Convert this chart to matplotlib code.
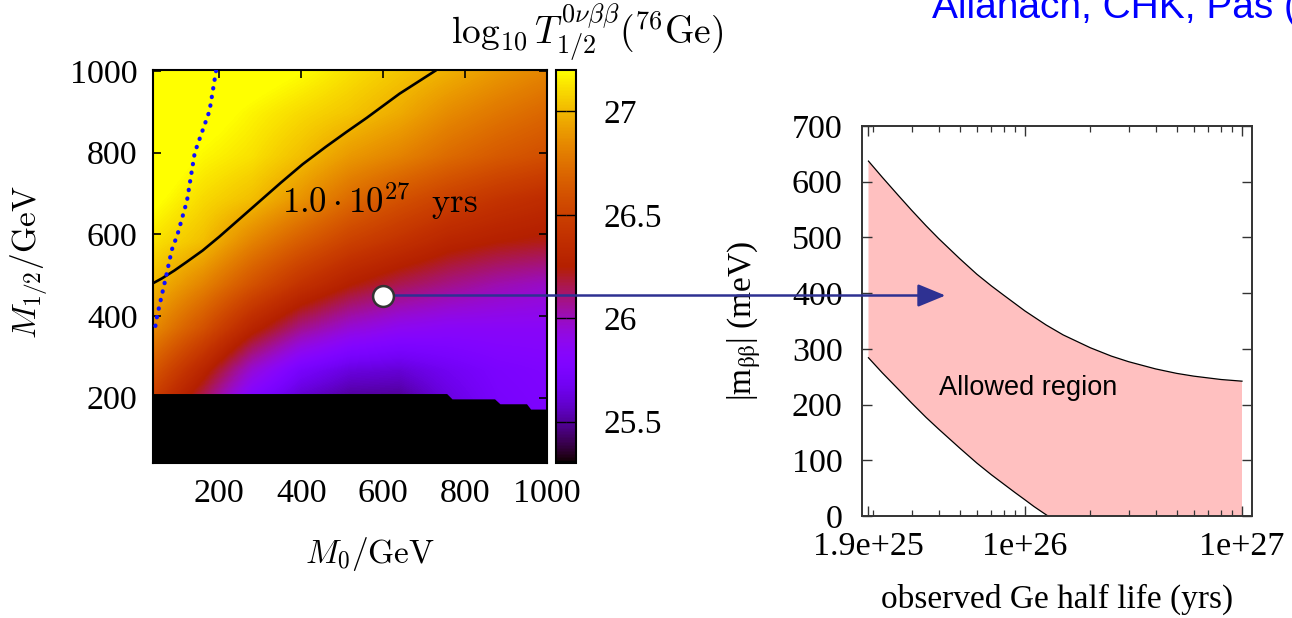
import numpy as np
import matplotlib
matplotlib.use("Agg")
import matplotlib.pyplot as plt
from matplotlib.patches import ConnectionPatch
from matplotlib.lines import Line2D
from matplotlib.ticker import FixedLocator, NullFormatter

plt.rcParams['font.family'] = ['Liberation Serif', 'DejaVu Serif']
plt.rcParams['mathtext.fontset'] = 'cm'

# ---------------- data: left panel (log10 T_1/2 over M0, M1/2 plane) -------------
m0_grid = [40, 160, 280, 400, 520, 640, 760, 880, 1000]
m12_grid = [160, 265, 370, 475, 580, 685, 790, 895, 1000]
log_t_half = [
    [26.40, 26.05, 25.68, 25.50, 25.42, 25.42, 25.60, 25.72, 25.76],
    [26.62, 26.30, 25.95, 25.72, 25.62, 25.60, 25.68, 25.75, 25.78],
    [26.85, 26.60, 26.30, 26.08, 25.95, 25.88, 25.85, 25.85, 25.85],
    [27.00, 26.82, 26.60, 26.40, 26.25, 26.15, 26.08, 26.02, 25.98],
    [27.12, 27.02, 26.82, 26.65, 26.50, 26.40, 26.30, 26.25, 26.22],
    [27.22, 27.10, 27.02, 26.88, 26.72, 26.60, 26.50, 26.42, 26.36],
    [27.30, 27.18, 27.12, 27.02, 26.90, 26.82, 26.72, 26.64, 26.58],
    [27.33, 27.25, 27.17, 27.10, 27.04, 26.96, 26.85, 26.77, 26.70],
    [27.35, 27.30, 27.26, 27.20, 27.12, 27.05, 26.98, 26.90, 26.83],
]
# 1.0e27 yrs contour
contour_m0 = [38, 60, 90, 120, 159, 200, 250, 300, 350, 403, 460, 510, 560, 640, 727]
contour_m12 = [480, 492, 511, 532, 560, 594, 638, 682, 726, 771, 814, 850, 885, 944, 1000]
# blue dotted boundary
dot_m0 = [192, 176, 140, 121, 98, 84, 68, 48, 43]
dot_m12 = [1000, 902, 800, 682, 600, 562, 488, 400, 370]
# excluded (black) region upper boundary
excl_m0 = [38, 755, 768, 872, 885, 950, 960, 1000]
excl_m12 = [210, 210, 197, 197, 185, 185, 172, 172]
# benchmark point
bench_m0, bench_m12 = 600, 450

cbar_ticks = [25.5, 26.0, 26.5, 27.0]
cbar_ticklabels = ['25.5', '26', '26.5', '27']
left_ticks = [200, 400, 600, 800, 1000]

# ---------------- data: right panel ----------------
T_upper = [1.9e25, 2.2e25, 2.6e25, 3e25, 3.5e25, 4e25, 5e25, 6e25, 7e25, 8e25, 1e26,
           1.25e26, 1.5e26, 2e26, 2.5e26, 3e26, 4e26, 5e26, 6e26, 8e26, 1e27]
m_upper = [637, 608, 576, 549, 521, 498, 462, 434, 413, 396, 368,
           343, 325, 302, 287, 277, 264, 256, 251, 245, 242]
T_lower = [1.9e25, 2.2e25, 2.6e25, 3e25, 3.5e25, 4e25, 5e25, 6e25, 7e25, 8e25, 9e25,
           1e26, 1.1e26, 1.2e26, 1.276e26]
m_lower = [284, 257, 228, 203, 177, 156, 122, 95, 74, 57, 42, 29, 17, 7, 0]
T_end = 1e27
arrow_tip_T = 4.3e25
right_xticks = [1.9e25, 1e26, 1e27]
right_xticklabels = ['1.9e+25', '1e+26', '1e+27']
right_minor = [2e25, 3e25, 4e25, 5e25, 6e25, 7e25, 8e25, 9e25,
               2e26, 3e26, 4e26, 5e26, 6e26, 7e26, 8e26, 9e26]
right_yticks = [0, 100, 200, 300, 400, 500, 600, 700]

# ---------------- figure ----------------
W, H = 1292, 618
fig = plt.figure(figsize=(W / 100, H / 100), dpi=100)


def rect(l, t, r, b):
    return [l / W, 1 - b / H, (r - l) / W, (b - t) / H]


def fxy(x, y):
    return (x / W, 1 - y / H)


ax1 = fig.add_axes(rect(153, 70, 547, 463))
cax = fig.add_axes(rect(556, 70, 576, 463))
ax2 = fig.add_axes(rect(862, 126, 1252, 516))

# heatmap
dx = m0_grid[1] - m0_grid[0]
dy = m12_grid[1] - m12_grid[0]
extent = [m0_grid[0] - dx / 2, m0_grid[-1] + dx / 2, m12_grid[0] - dy / 2, m12_grid[-1] + dy / 2]
im = ax1.imshow(np.array(log_t_half), origin='lower', extent=extent, aspect='auto',
                cmap='gnuplot', vmin=25.3, vmax=27.2, interpolation='bilinear',
                interpolation_stage='data')
ax1.fill_between(excl_m0, 0, excl_m12, color='black', lw=0, zorder=3)
ax1.plot(contour_m0, contour_m12, color='black', lw=1.9, zorder=4,
         solid_joinstyle='round')
ax1.plot(dot_m0, dot_m12, color='#1010ff', lw=3.0, ls=(0, (0.1, 2.0)),
         dash_capstyle='round', zorder=4)
ax1.text(591, 681, r'$1.0\cdot10^{27}\ \ \mathrm{yrs}$', ha='center', va='center',
         fontsize=25, zorder=5)
ax1.set_xlim(38, 1000)
ax1.set_ylim(40, 1002)
ax1.set_xticks(left_ticks)
ax1.set_yticks(left_ticks)
ax1.tick_params(direction='in', length=6, width=1.2, top=True, right=True,
                labelsize=24.5)
ax1.tick_params(axis='x', pad=11)
ax1.tick_params(axis='y', pad=11)
for s in ax1.spines.values():
    s.set_linewidth(1.5)

cb = fig.colorbar(im, cax=cax, ticks=cbar_ticks)
cb.ax.set_yticklabels(cbar_ticklabels)
cax.tick_params(direction='in', length=7, width=1.0, left=True, right=True,
                labelsize=24, pad=20)
cb.outline.set_linewidth(1.5)

# right panel
poly_x = T_upper + [T_end] + T_lower[::-1]
poly_y = m_upper + [0] + m_lower[::-1]
ax2.fill(poly_x, poly_y, color='#ffc0c0', lw=0)
ax2.plot(T_upper, m_upper, color='black', lw=0.9)
ax2.plot(T_lower, m_lower, color='black', lw=0.9)
ax2.set_xscale('log')
ax2.set_xlim(1.774e25, 1.112e27)
ax2.set_ylim(0, 700)
ax2.xaxis.set_major_locator(FixedLocator(right_xticks))
ax2.set_xticklabels(right_xticklabels)
ax2.xaxis.set_minor_locator(FixedLocator(right_minor))
ax2.xaxis.set_minor_formatter(NullFormatter())
ax2.set_yticks(right_yticks)
ax2.tick_params(which='major', direction='in', length=7, width=1.0, top=True,
                right=True, labelsize=24.5, color='#333333')
ax2.tick_params(which='minor', direction='in', length=4, width=0.9, top=True,
                right=True, color='#333333')
ax2.tick_params(axis='x', pad=11)
ax2.tick_params(axis='y', pad=14)
for s in ax2.spines.values():
    s.set_linewidth(1.4)
    s.set_color('#333333')
ax2.text(4.02e25, 230, 'Allowed region', family='Liberation Sans', fontsize=19.5,
         ha='left', va='center')

# labels
fig.text(*fxy(30, 262), r'$M_{1/2}/\mathrm{GeV}$', rotation=90, ha='center', va='center',
         fontsize=24)
fig.text(*fxy(370, 563), r'$M_0/\mathrm{GeV}$', ha='center', va='baseline', fontsize=24)
fig.text(*fxy(587, 44), r'$\log_{10}T^{0\nu\beta\beta}_{1/2}(^{76}\mathrm{Ge})$',
         ha='center', va='baseline', fontsize=27)
fig.text(*fxy(744, 321), r'|m$_{\mathrm{ββ}}$| (meV)', rotation=90, ha='center',
         va='center', fontsize=24, math_fontfamily='stix')
fig.text(*fxy(1057, 608), 'observed Ge half life (yrs)', ha='center', va='baseline',
         fontsize=24)
fig.text(*fxy(932, 18), 'Allanach, CHK, Pas (2009)', color='#0000ff',
         family='Liberation Sans', fontsize=28, ha='left', va='baseline')

# arrow from benchmark point to right panel
disp = ax1.transData.transform((bench_m0, bench_m12))
tip_y = ax2.transData.inverted().transform((disp[0], disp[1]))[1]
arrow = ConnectionPatch(xyA=(bench_m0, bench_m12), coordsA=ax1.transData,
                        xyB=(arrow_tip_T, tip_y), coordsB=ax2.transData,
                        arrowstyle='-|>,head_length=1.7,head_width=0.7',
                        mutation_scale=10, color='#2e3192', lw=1.8,
                        shrinkA=0, shrinkB=0, zorder=8)
fig.add_artist(arrow)
fig.add_artist(Line2D([bench_m0], [bench_m12], transform=ax1.transData, marker='o',
                      ms=15, mfc='white', mec='#333333', mew=1.8, zorder=10))

fig.savefig('out.png', dpi=100)
